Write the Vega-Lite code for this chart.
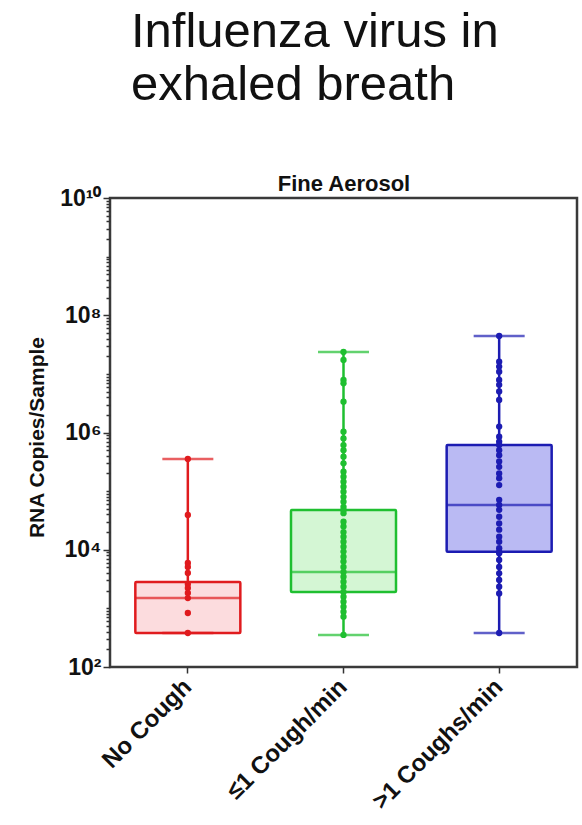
{
  "$schema": "https://vega.github.io/schema/vega-lite/v6.json",
  "width": 467,
  "height": 469,
  "autosize": "none",
  "padding": {"left": 110, "top": 198, "right": 5, "bottom": 158},
  "background": "white",
  "title": {
    "text": ["Influenza virus in", "exhaled breath"],
    "anchor": "start",
    "frame": "group",
    "dx": 21,
    "fontSize": 49,
    "font": "Liberation Sans",
    "fontWeight": "normal",
    "lineHeight": 53,
    "color": "#111111",
    "offset": 62
  },
  "config": {
    "view": {"stroke": "#3a3a3a", "strokeWidth": 2.5},
    "font": "Liberation Sans"
  },
  "datasets": {
    "stats": [
      {"group": "No Cough", "lo": 380, "q1": 380, "med": 1500, "q3": 2820, "hi": 353000},
      {"group": "≤1 Cough/min", "lo": 352, "q1": 1900, "med": 4170, "q3": 47600, "hi": 23600000},
      {"group": ">1 Coughs/min", "lo": 380, "q1": 9200, "med": 58000, "q3": 612000, "hi": 44300000}
    ],
    "pts": [
      {"group": "No Cough", "value": 353000},
      {"group": "No Cough", "value": 39200},
      {"group": "No Cough", "value": 5940},
      {"group": "No Cough", "value": 5080},
      {"group": "No Cough", "value": 4010},
      {"group": "No Cough", "value": 2600},
      {"group": "No Cough", "value": 2230},
      {"group": "No Cough", "value": 1830},
      {"group": "No Cough", "value": 1500},
      {"group": "No Cough", "value": 834},
      {"group": "No Cough", "value": 380},
      {"group": "≤1 Cough/min", "value": 23600000},
      {"group": "≤1 Cough/min", "value": 17300000},
      {"group": "≤1 Cough/min", "value": 7860000},
      {"group": "≤1 Cough/min", "value": 6900000},
      {"group": "≤1 Cough/min", "value": 3360000},
      {"group": "≤1 Cough/min", "value": 1030000},
      {"group": "≤1 Cough/min", "value": 790000},
      {"group": "≤1 Cough/min", "value": 610000},
      {"group": "≤1 Cough/min", "value": 500000},
      {"group": "≤1 Cough/min", "value": 387000},
      {"group": "≤1 Cough/min", "value": 298000},
      {"group": "≤1 Cough/min", "value": 215000},
      {"group": "≤1 Cough/min", "value": 176000},
      {"group": "≤1 Cough/min", "value": 145000},
      {"group": "≤1 Cough/min", "value": 119000},
      {"group": "≤1 Cough/min", "value": 98000},
      {"group": "≤1 Cough/min", "value": 80000},
      {"group": "≤1 Cough/min", "value": 66000},
      {"group": "≤1 Cough/min", "value": 54000},
      {"group": "≤1 Cough/min", "value": 47600},
      {"group": "≤1 Cough/min", "value": 42000},
      {"group": "≤1 Cough/min", "value": 30000},
      {"group": "≤1 Cough/min", "value": 25000},
      {"group": "≤1 Cough/min", "value": 20000},
      {"group": "≤1 Cough/min", "value": 16700},
      {"group": "≤1 Cough/min", "value": 13700},
      {"group": "≤1 Cough/min", "value": 11300},
      {"group": "≤1 Cough/min", "value": 9300},
      {"group": "≤1 Cough/min", "value": 7600},
      {"group": "≤1 Cough/min", "value": 6300},
      {"group": "≤1 Cough/min", "value": 5100},
      {"group": "≤1 Cough/min", "value": 4170},
      {"group": "≤1 Cough/min", "value": 3470},
      {"group": "≤1 Cough/min", "value": 2850},
      {"group": "≤1 Cough/min", "value": 2340},
      {"group": "≤1 Cough/min", "value": 1900},
      {"group": "≤1 Cough/min", "value": 1580},
      {"group": "≤1 Cough/min", "value": 1300},
      {"group": "≤1 Cough/min", "value": 1070},
      {"group": "≤1 Cough/min", "value": 877},
      {"group": "≤1 Cough/min", "value": 721},
      {"group": "≤1 Cough/min", "value": 352},
      {"group": ">1 Coughs/min", "value": 44300000},
      {"group": ">1 Coughs/min", "value": 16100000},
      {"group": ">1 Coughs/min", "value": 13300000},
      {"group": ">1 Coughs/min", "value": 10900000},
      {"group": ">1 Coughs/min", "value": 7900000},
      {"group": ">1 Coughs/min", "value": 6500000},
      {"group": ">1 Coughs/min", "value": 5000000},
      {"group": ">1 Coughs/min", "value": 3600000},
      {"group": ">1 Coughs/min", "value": 1260000},
      {"group": ">1 Coughs/min", "value": 850000},
      {"group": ">1 Coughs/min", "value": 700000},
      {"group": ">1 Coughs/min", "value": 612000},
      {"group": ">1 Coughs/min", "value": 500000},
      {"group": ">1 Coughs/min", "value": 410000},
      {"group": ">1 Coughs/min", "value": 320000},
      {"group": ">1 Coughs/min", "value": 260000},
      {"group": ">1 Coughs/min", "value": 200000},
      {"group": ">1 Coughs/min", "value": 166000},
      {"group": ">1 Coughs/min", "value": 127000},
      {"group": ">1 Coughs/min", "value": 71000},
      {"group": ">1 Coughs/min", "value": 58000},
      {"group": ">1 Coughs/min", "value": 48000},
      {"group": ">1 Coughs/min", "value": 36600},
      {"group": ">1 Coughs/min", "value": 28000},
      {"group": ">1 Coughs/min", "value": 22000},
      {"group": ">1 Coughs/min", "value": 16700},
      {"group": ">1 Coughs/min", "value": 13700},
      {"group": ">1 Coughs/min", "value": 10600},
      {"group": ">1 Coughs/min", "value": 9200},
      {"group": ">1 Coughs/min", "value": 8700},
      {"group": ">1 Coughs/min", "value": 6700},
      {"group": ">1 Coughs/min", "value": 5100},
      {"group": ">1 Coughs/min", "value": 3960},
      {"group": ">1 Coughs/min", "value": 3050},
      {"group": ">1 Coughs/min", "value": 2340},
      {"group": ">1 Coughs/min", "value": 1800},
      {"group": ">1 Coughs/min", "value": 380}
    ]
  },
  "layer": [
    {
      "data": {"name": "stats"},
      "mark": {"type": "rule", "strokeWidth": 2.5},
      "encoding": {
        "x": {"field": "group", "type": "nominal", "sort": null,
              "scale": {"type": "band", "domain": ["No Cough", "≤1 Cough/min", ">1 Coughs/min"], "paddingInner": 0, "paddingOuter": 0},
              "axis": {
                "title": null, "labelAngle": -45, "labelAlign": "right", "labelBaseline": "middle",
                "labelFontSize": 24, "labelFontWeight": "bold", "labelColor": "#111111", "labelPadding": 10,
                "labelLimit": 300, "tickSize": 6, "tickColor": "#333333", "tickWidth": 1.5, "domain": false, "grid": false
              }},
        "y": {"field": "lo", "type": "quantitative",
              "scale": {"type": "log", "domain": [100, 10000000000], "nice": false},
              "axis": {
                "title": "RNA Copies/Sample",
                "values": [100, 200, 300, 400, 500, 600, 700, 800, 900,
                           1000, 2000, 3000, 4000, 5000, 6000, 7000, 8000, 9000,
                           10000, 20000, 30000, 40000, 50000, 60000, 70000, 80000, 90000,
                           100000, 200000, 300000, 400000, 500000, 600000, 700000, 800000, 900000,
                           1000000, 2000000, 3000000, 4000000, 5000000, 6000000, 7000000, 8000000, 9000000,
                           10000000, 20000000, 30000000, 40000000, 50000000, 60000000, 70000000, 80000000, 90000000,
                           100000000, 200000000, 300000000, 400000000, 500000000, 600000000, 700000000, 800000000, 900000000,
                           1000000000, 2000000000, 3000000000, 4000000000, 5000000000, 6000000000, 7000000000, 8000000000, 9000000000,
                           10000000000],
                "labelExpr": "datum.value == 100 ? '10²' : datum.value == 10000 ? '10⁴' : datum.value == 1000000 ? '10⁶' : datum.value == 100000000 ? '10⁸' : datum.value == 10000000000 ? '10¹⁰' : ''",
                "labelFontWeight": "bold", "labelFontSize": 23, "labelColor": "#111111",
                "labelPadding": 2, "labelFlush": false, "labelOverlap": false, "labelBaseline": "middle",
                "tickColor": "#333333", "tickWidth": 1.5,
                "tickSize": {"condition": {"test": "indexof([100,10000,1000000,100000000,10000000000], datum.value) >= 0", "value": 7}, "value": 4},
                "domain": false, "grid": false,
                "titleFontSize": 21, "titleFontWeight": "bold", "titleColor": "#111111",
                "titleX": -73, "titleY": 239, "titleAngle": -90, "titleAlign": "center", "titleBaseline": "middle"
              }},
        "y2": {"field": "hi"},
        "color": {"field": "group", "type": "nominal", "legend": null,
                  "scale": {"domain": ["No Cough", "≤1 Cough/min", ">1 Coughs/min"], "range": ["#e01b1e", "#1fbf30", "#1c1cb2"]}}
      }
    },
    {
      "data": {"name": "stats"},
      "mark": {"type": "bar", "size": 105, "strokeWidth": 2.5, "cornerRadius": 1},
      "encoding": {
        "x": {"field": "group", "type": "nominal", "sort": null, "axis": null},
        "y": {"field": "q1", "type": "quantitative", "axis": null},
        "y2": {"field": "q3"},
        "fill": {"field": "group", "type": "nominal", "legend": null,
                 "scale": {"domain": ["No Cough", "≤1 Cough/min", ">1 Coughs/min"], "range": ["#fcdcde", "#d4f6d4", "#babaf3"]}},
        "stroke": {"field": "group", "type": "nominal", "legend": null,
                   "scale": {"domain": ["No Cough", "≤1 Cough/min", ">1 Coughs/min"], "range": ["#e01b1e", "#1fbf30", "#1c1cb2"]}}
      }
    },
    {
      "data": {"name": "stats"},
      "mark": {"type": "tick", "size": 105, "thickness": 2.5},
      "encoding": {
        "x": {"field": "group", "type": "nominal", "sort": null,
              "axis": {"orient": "top", "title": "Fine Aerosol", "labels": false, "ticks": false, "domain": false, "grid": false,
                       "titleFontSize": 22, "titleFontWeight": "bold", "titleColor": "#111111", "titlePadding": 8, "titleBaseline": "alphabetic"}},
        "y": {"field": "med", "type": "quantitative", "axis": null},
        "color": {"field": "group", "type": "nominal", "legend": null}
      }
    },
    {
      "data": {"name": "stats"},
      "mark": {"type": "tick", "size": 51, "thickness": 2.5},
      "encoding": {
        "x": {"field": "group", "type": "nominal", "sort": null, "axis": null},
        "y": {"field": "hi", "type": "quantitative", "axis": null},
        "color": {"field": "group", "type": "nominal", "legend": null}
      }
    },
    {
      "data": {"name": "stats"},
      "mark": {"type": "tick", "size": 51, "thickness": 2.5},
      "encoding": {
        "x": {"field": "group", "type": "nominal", "sort": null, "axis": null},
        "y": {"field": "lo", "type": "quantitative", "axis": null},
        "color": {"field": "group", "type": "nominal", "legend": null}
      }
    },
    {
      "data": {"name": "pts"},
      "mark": {"type": "circle", "size": 40, "opacity": 1},
      "encoding": {
        "x": {"field": "group", "type": "nominal", "sort": null, "axis": null},
        "y": {"field": "value", "type": "quantitative", "axis": null},
        "color": {"field": "group", "type": "nominal", "legend": null}
      }
    }
  ],
  "resolve": {"axis": {"x": "independent", "y": "independent"}}
}
